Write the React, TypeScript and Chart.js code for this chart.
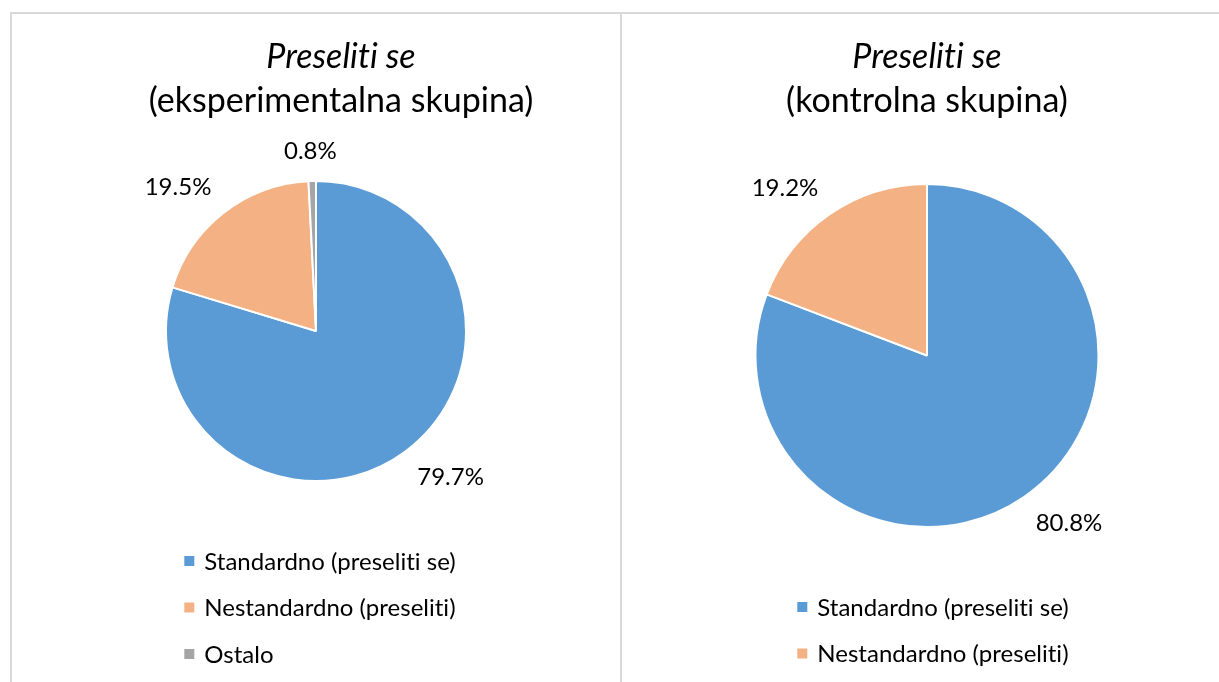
import React, { useEffect, useRef } from "react";
import { Chart, registerables } from "chart.js";

Chart.register(...registerables);

// ---- Data ----
const categoriesExp = ["Standardno (preseliti se)", "Nestandardno (preseliti)", "Ostalo"];
const valuesExp = [79.7, 19.5, 0.8];
const categoriesCtrl = ["Standardno (preseliti se)", "Nestandardno (preseliti)"];
const valuesCtrl = [80.8, 19.2];
const sliceColors = ["#5B9BD5", "#F4B183", "#A5A5A5"];
const titleMain = "Preseliti se";
const subtitleExp = "(eksperimentalna skupina)";
const subtitleCtrl = "(kontrolna skupina)";

const FONT = "Lato, 'Open Sans', sans-serif";

const decorPlugin = {
  id: "decor",
  afterDatasetsDraw(chart: any, _args: any, opts: any) {
    const ctx = chart.ctx as any;
    const meta = chart.getDatasetMeta(0);
    const ds = chart.data.datasets[0];
    ctx.save();
    try {
      ctx.textRendering = "optimizeSpeed";
      ctx.letterSpacing = "0.01px";
    } catch (e) {}
    ctx.fillStyle = "#000000";
    ctx.textAlign = "center";
    ctx.textBaseline = "middle";

    // Titles
    const tcx = chart.width / 2 + opts.titleDx;
    ctx.font = `italic ${opts.titleSize}px ${FONT}`;
    ctx.fillText(opts.title, tcx, opts.titleY1);
    ctx.font = `${opts.titleSize}px ${FONT}`;
    ctx.fillText(opts.subtitle, tcx, opts.titleY2);

    // Data labels (outside end)
    ctx.font = `${opts.labelSize}px ${FONT}`;
    meta.data.forEach((arc: any, i: number) => {
      const p = arc.getProps(["x", "y", "startAngle", "endAngle", "outerRadius"], true);
      const mid = (p.startAngle + p.endAngle) / 2;
      const dx = Math.cos(mid);
      const dy = Math.sin(mid);
      const text = Number(ds.data[i]).toFixed(1) + "%";
      const w = ctx.measureText(text).width;
      const h = opts.labelSize * 0.8;
      const r = p.outerRadius + opts.labelGap;
      const sx = Math.max(-1, Math.min(1, dx * 2));
      const sy = Math.sign(dy);
      ctx.fillText(text, p.x + dx * r + (sx * w) / 2, p.y + dy * r + (sy * h) / 2);
    });

    // Legend (vertical list)
    const labels: string[] = chart.data.labels;
    ctx.font = `${opts.legendSize}px ${FONT}`;
    const box = 10;
    const gap = 10;
    let maxW = 0;
    labels.forEach((l) => (maxW = Math.max(maxW, ctx.measureText(l).width)));
    const blockW = box + gap + maxW;
    const x0 = chart.width / 2 + opts.legendDx - blockW / 2;
    ctx.textAlign = "left";
    labels.forEach((l, i) => {
      const y = chart.chartArea.bottom + opts.legendTop + i * opts.legendStep;
      ctx.fillStyle = ds.backgroundColor[i];
      ctx.fillRect(x0, y - box / 2, box, box);
      ctx.fillStyle = "#000000";
      ctx.fillText(l, x0 + box + gap, y + 1);
    });
    ctx.restore();
  },
};

function PiePanel(props: {
  labels: string[];
  values: number[];
  subtitle: string;
  width: number;
  height: number;
  padTop: number;
  padBottom: number;
  titleDx: number;
  legendDx: number;
}) {
  const ref = useRef<HTMLCanvasElement | null>(null);
  useEffect(() => {
    if (!ref.current) return;
    const chart = new Chart(ref.current, {
      type: "pie",
      data: {
        labels: props.labels,
        datasets: [
          {
            data: props.values,
            backgroundColor: sliceColors.slice(0, props.values.length),
            borderColor: "#ffffff",
            borderWidth: 2,
          },
        ],
      },
      options: {
        responsive: false,
        animation: false,
        layout: { padding: { top: props.padTop, bottom: props.padBottom, left: 0, right: 0 } },
        plugins: {
          legend: { display: false },
          tooltip: { enabled: false },
          title: { display: false },
          decor: {
            title: titleMain,
            subtitle: props.subtitle,
            titleSize: 34,
            titleY1: 43,
            titleY2: 87,
            titleDx: props.titleDx,
            labelSize: 24,
            labelGap: 20,
            legendSize: 24,
            legendTop: 79,
            legendStep: 46.5,
            legendDx: props.legendDx,
          },
        } as any,
      },
      plugins: [decorPlugin],
    });
    return () => chart.destroy();
  }, []);
  return <canvas ref={ref} width={props.width} height={props.height} style={{ display: "block" }} />;
}

export default function App() {
  return (
    <div
      style={{
        position: "fixed",
        left: 0,
        top: 0,
        width: 1219,
        height: 682,
        overflow: "hidden",
        background: "#ffffff",
      }}
    >
      <div
        style={{
          position: "absolute",
          left: 10,
          top: 12,
          width: 608,
          height: 700,
          borderLeft: "2px solid #d9d9d9",
          borderTop: "2px solid #d9d9d9",
          borderRight: "2px solid #d9d9d9",
        }}
      >
        <PiePanel
          labels={categoriesExp}
          values={valuesExp}
          subtitle={subtitleExp}
          width={608}
          height={668}
          padTop={166}
          padBottom={200}
          titleDx={25}
          legendDx={4}
        />
      </div>
      <div
        style={{
          position: "absolute",
          left: 622,
          top: 12,
          width: 610,
          height: 700,
          borderTop: "2px solid #d9d9d9",
        }}
      >
        <PiePanel
          labels={categoriesCtrl}
          values={valuesCtrl}
          subtitle={subtitleCtrl}
          width={610}
          height={668}
          padTop={169}
          padBottom={154}
          titleDx={0}
          legendDx={6}
        />
      </div>
    </div>
  );
}
